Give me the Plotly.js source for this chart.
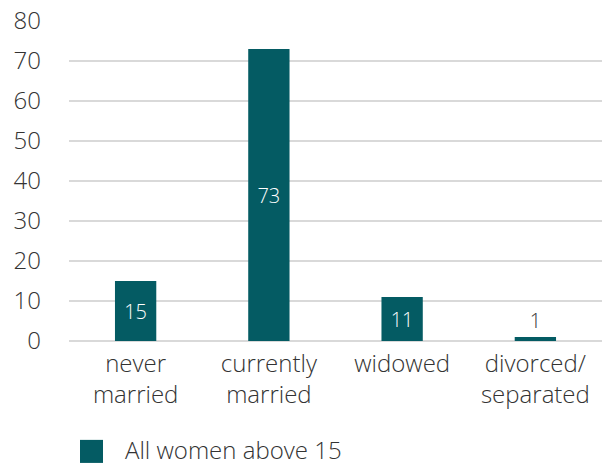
<!DOCTYPE html>
<html>
<head>
<meta charset="utf-8">
<script src="https://cdn.plot.ly/plotly-3.0.1.min.js"></script>
<style>html,body{margin:0;padding:0;background:#fff;}#chart{width:602px;height:470px;}</style>
</head>
<body>
<div id="chart"></div>
<script>
const categories = ["never<br>married", "currently<br>married", "widowed", "divorced/<br>separated"];
const values = [15, 73, 11, 1];
const labels = ["15", "73", "11", "1"];
const seriesName = "All women above 15";
const yTicks = [0, 10, 20, 30, 40, 50, 60, 70, 80];

const font = "Open Sans, Noto Sans, sans-serif";
const W = 300;
const barColor = "#045b63";
const textColor = "#333333";
const trace = {
  type: "bar",
  x: categories,
  y: values,
  name: seriesName,
  text: labels,
  textposition: ["inside", "inside", "inside", "outside"],
  insidetextanchor: "middle",
  textfont: {family: font, size: 20, weight: W},
  insidetextfont: {family: font, size: 20, weight: W, color: "#ffffff"},
  outsidetextfont: {family: font, size: 20, weight: W, color: textColor},
  cliponaxis: false,
  marker: {color: barColor},
  showlegend: false
};
const layout = {
  width: 602, height: 470,
  margin: {l: 69, r: 0, t: 21, b: 129},
  paper_bgcolor: "#ffffff", plot_bgcolor: "#ffffff",
  bargap: 0.69,
  font: {family: font, color: textColor, size: 24, weight: W},
  xaxis: {
    type: "category",
    tickfont: {family: font, size: 24, weight: W, color: textColor},
    showgrid: false, showline: false, ticks: "",
    ticklabelstandoff: 6,
    automargin: false
  },
  yaxis: {
    range: [0, 80],
    tickvals: yTicks,
    ticktext: yTicks.map(String),
    tickfont: {family: font, size: 24, weight: W, color: textColor},
    showgrid: true, gridcolor: "#d9d9d9", gridwidth: 2,
    zeroline: true, zerolinecolor: "#d9d9d9", zerolinewidth: 2,
    showline: false, ticks: "",
    ticklabelstandoff: 27,
    automargin: false
  },
  showlegend: false,
  shapes: [{
    type: "rect", xref: "paper", yref: "paper",
    x0: 0.0206, x1: 0.0638, y0: -0.309, y1: -0.381,
    fillcolor: barColor, line: {width: 0}
  }],
  annotations: [{
    xref: "paper", yref: "paper",
    x: 0.101, y: -0.397, xanchor: "left", yanchor: "bottom",
    text: seriesName, showarrow: false,
    font: {family: font, size: 24, weight: W, color: textColor}
  }]
};
Plotly.newPlot("chart", [trace], layout, {displayModeBar: false, staticPlot: true});
</script>
</body>
</html>
